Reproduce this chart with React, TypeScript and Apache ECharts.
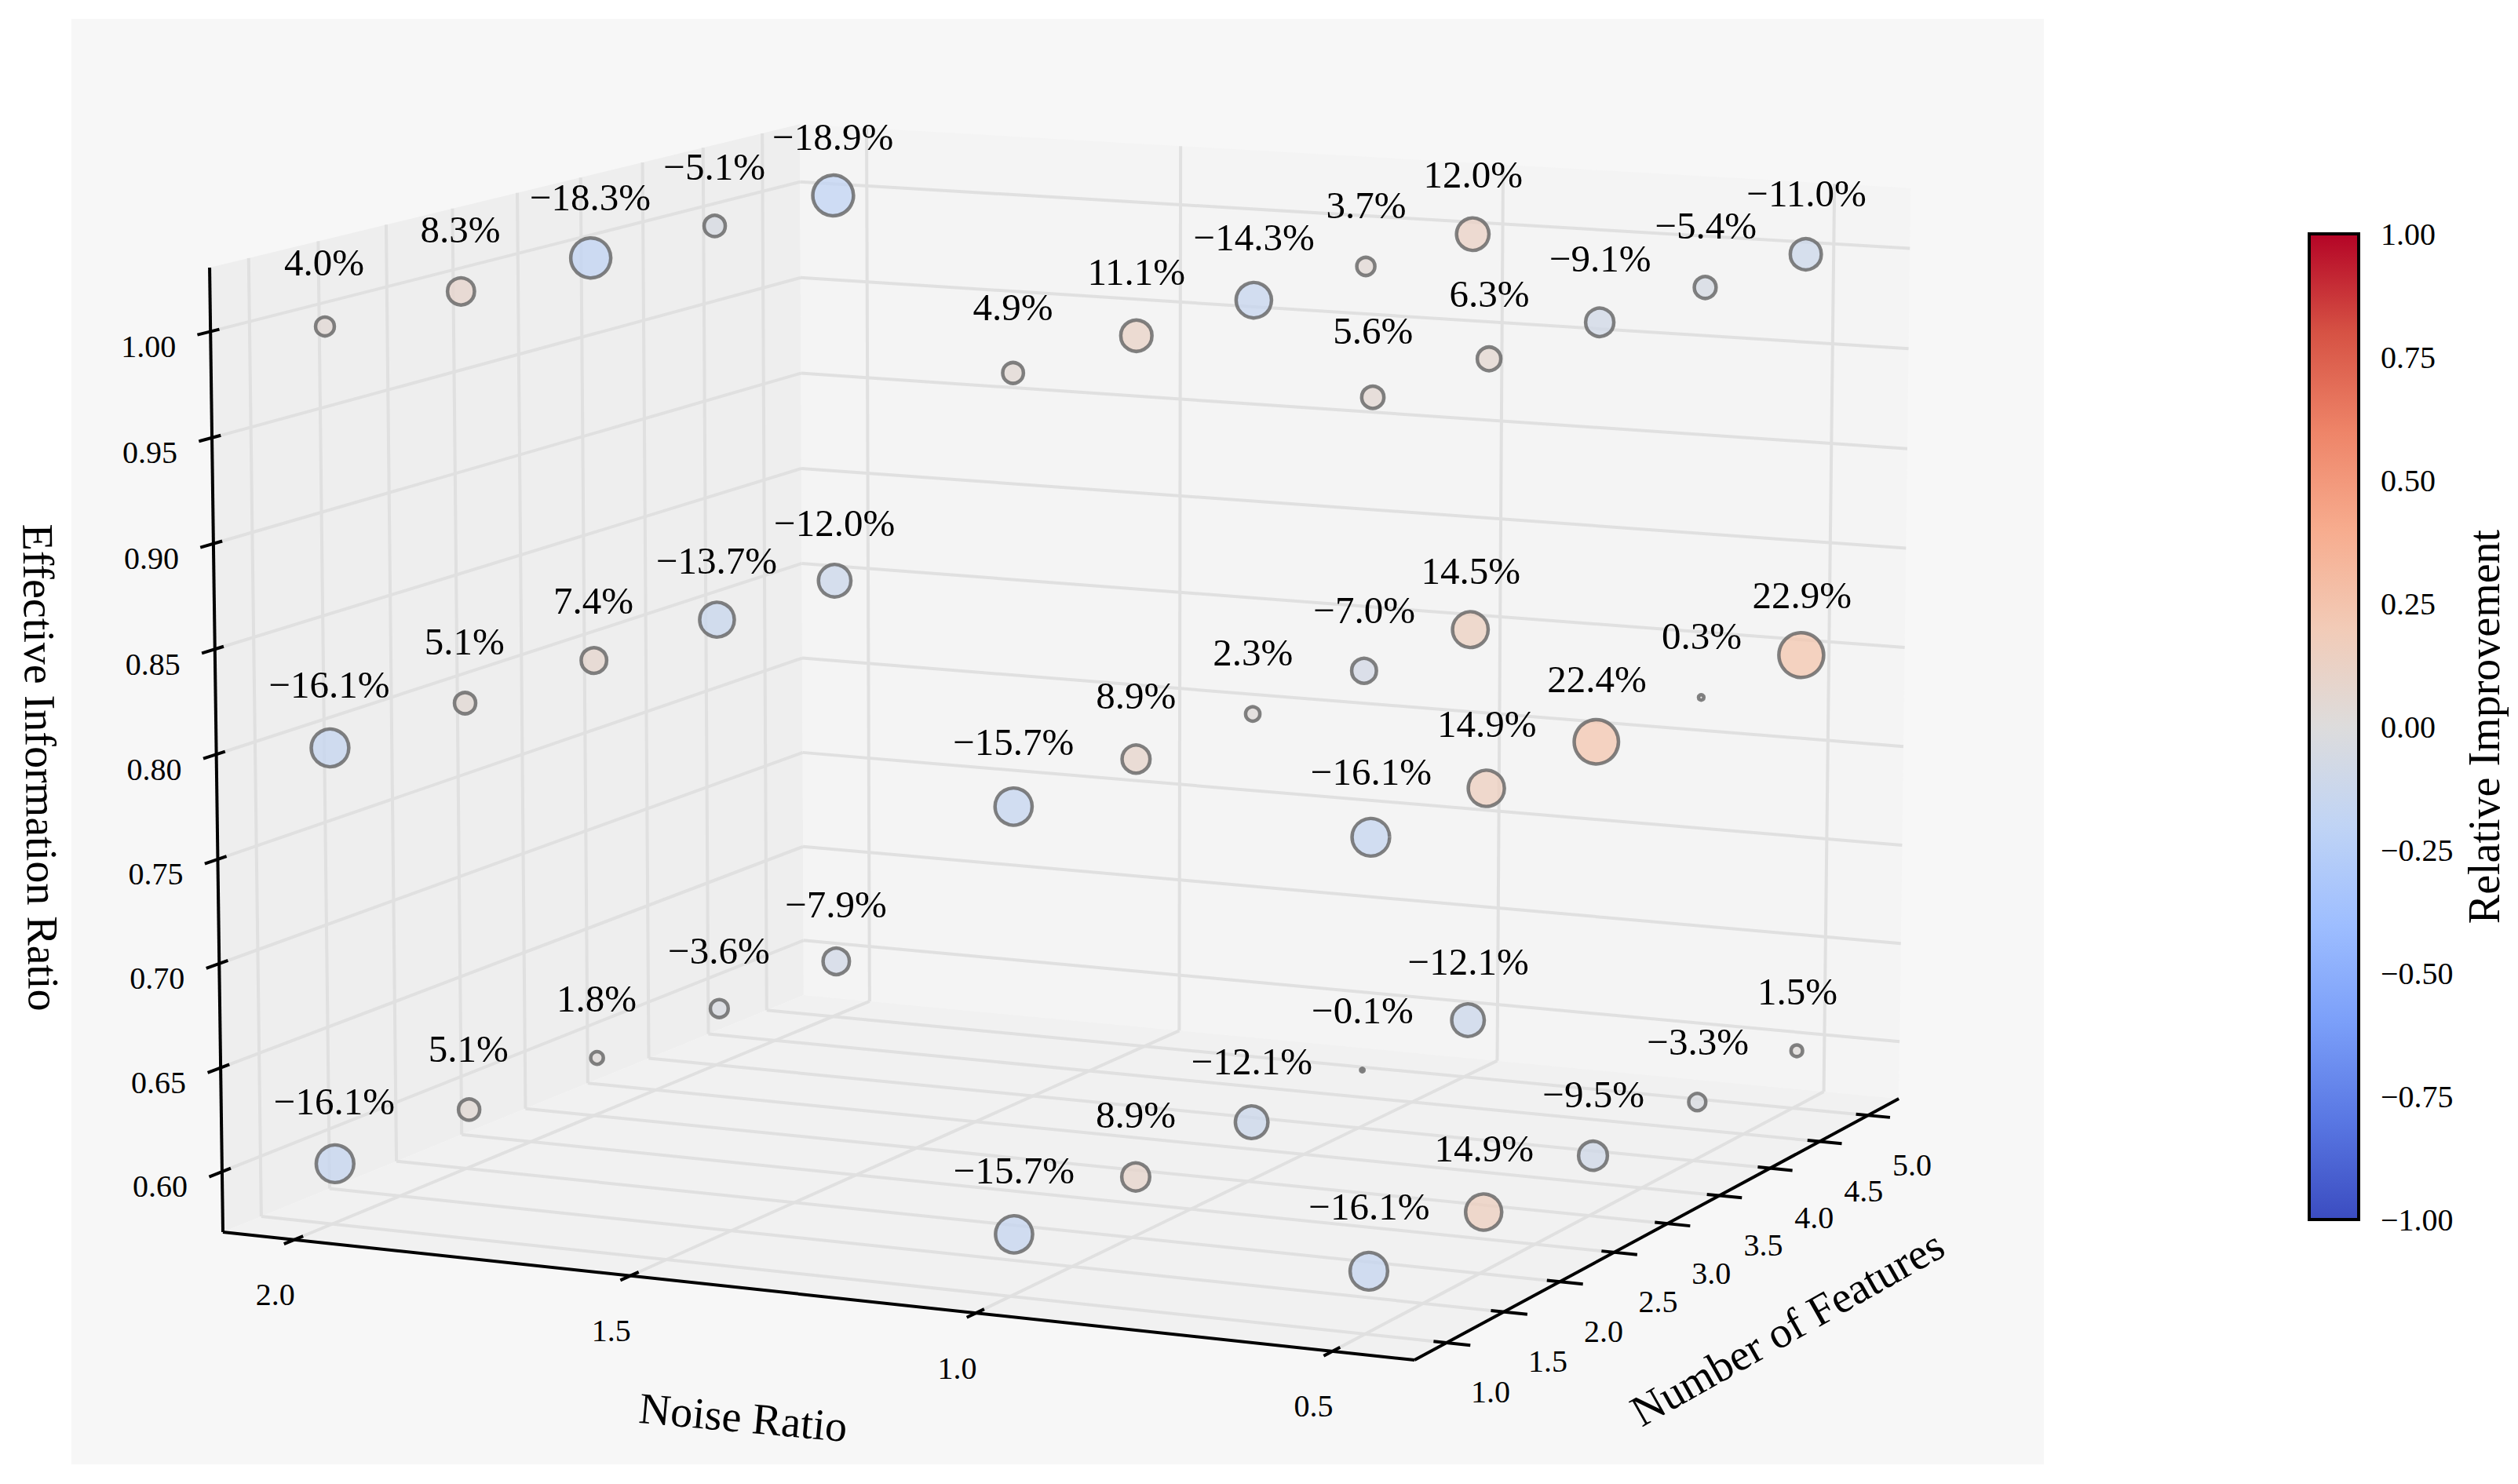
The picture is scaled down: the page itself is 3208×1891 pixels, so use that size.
import React, { useEffect, useRef } from "react";
import * as echarts from "echarts";

// ---- data ----
const noiseLevels = [2.0, 1.0, 0.5];
const featureCounts = [1, 2, 3, 4, 5];
const ratioLevels = [1.0, 0.8, 0.6];

const ratio100Noise20 = [4.0, 8.3, -18.3, -5.1, -18.9];
const ratio100Noise10 = [4.9, 11.1, -14.3, 3.7, 12.0];
const ratio100Noise05 = [5.6, 6.3, -9.1, -5.4, -11.0];
const ratio080Noise20 = [-16.1, 5.1, 7.4, -13.7, -12.0];
const ratio080Noise10 = [-15.7, 8.9, 2.3, -7.0, 14.5];
const ratio080Noise05 = [-16.1, 14.9, 22.4, 0.3, 22.9];
const ratio060Noise20 = [-16.1, 5.1, 1.8, -3.6, -7.9];
const ratio060Noise10 = [-15.7, 8.9, -12.1, -0.1, -12.1];
const ratio060Noise05 = [-16.1, 14.9, -9.5, -3.3, 1.5];

const improvementTable = [
  [ratio100Noise20, ratio100Noise10, ratio100Noise05],
  [ratio080Noise20, ratio080Noise10, ratio080Noise05],
  [ratio060Noise20, ratio060Noise10, ratio060Noise05],
];

const noiseTicks = [2.0, 1.5, 1.0, 0.5];
const featureTicks = [1.0, 1.5, 2.0, 2.5, 3.0, 3.5, 4.0, 4.5, 5.0];
const ratioTicks = [0.6, 0.65, 0.7, 0.75, 0.8, 0.85, 0.9, 0.95, 1.0];

const noiseLimits = [2.108, 0.387];
const featureLimits = [0.7246, 5.323];
const ratioLimits = [0.5708, 1.03];

const coolwarmStops = [
  "#3b4cc0", "#5977e3", "#7b9ff9", "#9ebeff", "#c0d4f5", "#dddcdc",
  "#f2cbb7", "#f7ac8e", "#ee8468", "#d65244", "#b40426",
];

const FONT = '"Liberation Serif", "Times New Roman", serif';

// ---- camera of the 3-D box ----
function projectUnit(u: number, v: number, w: number): [number, number] {
  const den = 1 - 0.0495 * u + 0.11 * v - 0.0152 * w;
  return [
    (284 + 1428.9 * u + 852.6 * v - 21 * w) / den,
    (1570 + 77.3 * u - 162.5 * v - 1234.2 * w) / den,
  ];
}
const uOf = (n: number) => (noiseLimits[0] - n) / (noiseLimits[0] - noiseLimits[1]);
const vOf = (f: number) => (f - featureLimits[0]) / (featureLimits[1] - featureLimits[0]);
const wOf = (z: number) => (z - ratioLimits[0]) / (ratioLimits[1] - ratioLimits[0]);
const MARK_SHIFT_X = 4.5;
const project = (n: number, f: number, z: number): [number, number] => {
  const p = projectUnit(uOf(n), vOf(f), wOf(z));
  return [p[0] + MARK_SHIFT_X, p[1]];
};

function hexToRgb(h: string) {
  return [1, 3, 5].map((i) => parseInt(h.slice(i, i + 2), 16));
}
function coolwarm(t: number, alpha: number) {
  const p = Math.max(0, Math.min(1, t)) * (coolwarmStops.length - 1);
  const i = Math.min(Math.floor(p), coolwarmStops.length - 2);
  const a = hexToRgb(coolwarmStops[i]);
  const b = hexToRgb(coolwarmStops[i + 1]);
  const c = a.map((x, k) => Math.round(x + (b[k] - x) * (p - i)));
  return `rgba(${c[0]},${c[1]},${c[2]},${alpha})`;
}
const pctLabel = (v: number) => (v < 0 ? "\u2212" : "") + Math.abs(v).toFixed(1) + "%";

// ---- frame ----
type Seg = [number, number, number, number, number];
const seg = (a: [number, number], b: [number, number], kind: number): Seg => [a[0], a[1], b[0], b[1], kind];
const SEG_STYLE = [
  { stroke: "#e0e0e0", lineWidth: 4 },
  { stroke: "#000000", lineWidth: 4 },
  { stroke: "#000000", lineWidth: 4 },
];

function buildSegments(): Seg[] {
  const out: Seg[] = [];
  ratioTicks.forEach((z) => {
    const w = wOf(z);
    out.push(seg(projectUnit(0, 0, w), projectUnit(0, 1, w), 0));
    out.push(seg(projectUnit(0, 1, w), projectUnit(1, 1, w), 0));
  });
  noiseTicks.forEach((n) => {
    const u = uOf(n);
    out.push(seg(projectUnit(u, 0, 0), projectUnit(u, 1, 0), 0));
    out.push(seg(projectUnit(u, 1, 0), projectUnit(u, 1, 1), 0));
  });
  featureTicks.forEach((f) => {
    const v = vOf(f);
    out.push(seg(projectUnit(0, v, 0), projectUnit(1, v, 0), 0));
    out.push(seg(projectUnit(0, v, 0), projectUnit(0, v, 1), 0));
  });
  out.push(seg(projectUnit(0, 0, 0), projectUnit(1, 0, 0), 1));
  out.push(seg(projectUnit(1, 0, 0), projectUnit(1, 1, 0), 1));
  out.push(seg(projectUnit(0, 0, 0), projectUnit(0, 0, 1), 1));
  noiseTicks.forEach((n) => {
    const u = uOf(n);
    out.push(seg(projectUnit(u, -0.016, 0), projectUnit(u, 0.014, 0), 2));
  });
  featureTicks.forEach((f) => {
    const v = vOf(f);
    out.push(seg(projectUnit(0.9895, v, 0), projectUnit(1.019, v, 0), 2));
  });
  ratioTicks.forEach((z) => {
    const w = wOf(z);
    out.push(seg(projectUnit(0, -0.02, w), projectUnit(0, 0.0135, w), 2));
  });
  return out;
}

function buildPanes(): number[][] {
  const flat = (pts: [number, number][], kind: number) => [...pts.flat(), kind];
  return [
    flat([[91, 24], [2604, 24], [2604, 1866], [91, 1866]], 0),
    flat([projectUnit(0, 0, 0), projectUnit(0, 1, 0), projectUnit(0, 1, 1), projectUnit(0, 0, 1)], 1),
    flat([projectUnit(0, 1, 0), projectUnit(1, 1, 0), projectUnit(1, 1, 1), projectUnit(0, 1, 1)], 2),
    flat([projectUnit(0, 0, 0), projectUnit(1, 0, 0), projectUnit(1, 1, 0), projectUnit(0, 1, 0)], 3),
  ];
}
const PANE_FILL = ["#f7f7f7", "#eeeeee", "#f4f4f4", "#f1f1f1"];

// ---- texts ----
type Txt = { p: [number, number]; text: string; size: number };
function buildTexts(): Txt[] {
  const t: Txt[] = [];
  ratioTicks.forEach((z) => {
    const a = projectUnit(0, 0, wOf(z));
    t.push({ p: [a[0] - 79, a[1] + 19], text: z.toFixed(2), size: 40 });
  });
  noiseTicks.forEach((n) => {
    const a = projectUnit(uOf(n), 0, 0);
    t.push({ p: [a[0] - 24, a[1] + 70], text: n.toFixed(1), size: 40 });
  });
  featureTicks.forEach((f) => {
    const a = projectUnit(1, vOf(f), 0);
    t.push({ p: [a[0] + 56, a[1] + 63], text: f.toFixed(1), size: 40 });
  });
  ratioLevels.forEach((z, zi) =>
    noiseLevels.forEach((n, ni) =>
      featureCounts.forEach((f, fi) => {
        t.push({ p: project(n, f, z + 0.03), text: pctLabel(improvementTable[zi][ni][fi]), size: 49 });
      })
    )
  );
  return t;
}

function buildPoints() {
  const pts: any[] = [];
  ratioLevels.forEach((z, zi) =>
    noiseLevels.forEach((n, ni) =>
      featureCounts.forEach((f, fi) => {
        const val = improvementTable[zi][ni][fi];
        pts.push({
          value: [...project(n, f, z), val],
          symbolSize: Math.sqrt(5 + 142 * Math.abs(val)),
          itemStyle: { color: coolwarm((val / 100 + 1) / 2, 0.97) },
        });
      })
    )
  );
  return pts;
}

export default function App() {
  const ref = useRef<HTMLDivElement>(null);
  useEffect(() => {
    document.body.style.margin = "0";
    const chart = echarts.init(ref.current!, null, { renderer: "svg" });
    const texts = buildTexts();
    const titleStyle = { fontFamily: FONT, fontSize: 56, fill: "#000", align: "center", verticalAlign: "middle" };
    chart.setOption({
      animation: false,
      backgroundColor: "#ffffff",
      grid: [
        { left: 0, top: 0, width: 3208, height: 1891, containLabel: false },
        { left: 2942, top: 298, width: 63, height: 1256, containLabel: false },
      ],
      xAxis: [
        { type: "value", gridIndex: 0, min: 0, max: 3208, show: false },
        { type: "value", gridIndex: 1, min: 0, max: 1, show: false },
      ],
      yAxis: [
        { type: "value", gridIndex: 0, min: 0, max: 1891, inverse: true, show: false },
        {
          type: "value",
          gridIndex: 1,
          min: -1,
          max: 1,
          interval: 0.25,
          position: "right",
          splitLine: { show: false },
          axisLine: { show: true, lineStyle: { color: "#000", width: 4 } },
          axisTick: { show: true, length: 15, lineStyle: { color: "#000", width: 4 } },
          axisLabel: {
            margin: 28,
            fontFamily: FONT,
            fontSize: 40,
            color: "#000",
            formatter: (v: number) => (v < 0 ? "\u2212" : "") + Math.abs(v).toFixed(2),
          },
          name: "Relative Improvement",
          nameLocation: "middle",
          nameRotate: 90,
          nameGap: 132,
          nameTextStyle: { fontFamily: FONT, fontSize: 56, color: "#000" },
        },
      ],
      series: [
        {
          type: "custom",
          xAxisIndex: 0,
          yAxisIndex: 0,
          z: 1,
          clip: false,
          silent: true,
          data: buildPanes(),
          encode: { x: 0, y: 1 },
          renderItem: (_: any, api: any) => {
            const pts = [0, 2, 4, 6].map((i) => api.coord([api.value(i), api.value(i + 1)]));
            return { type: "polygon", shape: { points: pts }, style: { fill: PANE_FILL[api.value(8)] } };
          },
        },
        {
          type: "custom",
          xAxisIndex: 0,
          yAxisIndex: 0,
          z: 2,
          clip: false,
          silent: true,
          data: buildSegments(),
          encode: { x: 0, y: 1 },
          renderItem: (_: any, api: any) => {
            const a = api.coord([api.value(0), api.value(1)]);
            const b = api.coord([api.value(2), api.value(3)]);
            return {
              type: "line",
              shape: { x1: a[0], y1: a[1], x2: b[0], y2: b[1] },
              style: SEG_STYLE[api.value(4)],
            };
          },
        },
        {
          type: "scatter",
          xAxisIndex: 0,
          yAxisIndex: 0,
          z: 3,
          silent: true,
          clip: false,
          data: buildPoints(),
          itemStyle: { borderColor: "#636363", borderWidth: 4.5 },
        },
        {
          type: "custom",
          xAxisIndex: 0,
          yAxisIndex: 0,
          z: 4,
          clip: false,
          silent: true,
          data: texts.map((t) => t.p),
          encode: { x: 0, y: 1 },
          renderItem: (params: any, api: any) => {
            const t = texts[params.dataIndex];
            const c = api.coord([api.value(0), api.value(1)]);
            return {
              type: "text",
              x: c[0],
              y: c[1],
              style: {
                text: t.text,
                fontFamily: FONT,
                fontSize: t.size,
                fill: "#000",
                align: "center",
                verticalAlign: "middle",
              },
            };
          },
        },
        {
          type: "custom",
          xAxisIndex: 1,
          yAxisIndex: 1,
          z: 2,
          clip: false,
          silent: true,
          data: [[0, -1]],
          encode: { x: 0, y: 1 },
          renderItem: (_: any, api: any) => {
            const a = api.coord([0, 1]);
            const b = api.coord([1, -1]);
            return {
              type: "rect",
              shape: { x: a[0], y: a[1], width: b[0] - a[0], height: b[1] - a[1] },
              style: {
                stroke: "#000",
                lineWidth: 4,
                fill: new echarts.graphic.LinearGradient(
                  0,
                  1,
                  0,
                  0,
                  coolwarmStops.map((color, i) => ({ offset: i / (coolwarmStops.length - 1), color }))
                ),
              },
            };
          },
        },
      ],
      graphic: [
        { type: "text", z: 20, x: 52, y: 978, rotation: -Math.PI / 2 + 0.012, style: { ...titleStyle, text: "Effective Information Ratio" } },
        { type: "text", z: 20, x: 947, y: 1806, rotation: -0.092, style: { ...titleStyle, text: "Noise Ratio" } },
        { type: "text", z: 20, x: 2277, y: 1692, rotation: 0.515, style: { ...titleStyle, text: "Number of Features" } },
      ],
    });
    return () => chart.dispose();
  }, []);
  return <div ref={ref} style={{ position: "fixed", left: 0, top: 0, width: 3208, height: 1891 }} />;
}
